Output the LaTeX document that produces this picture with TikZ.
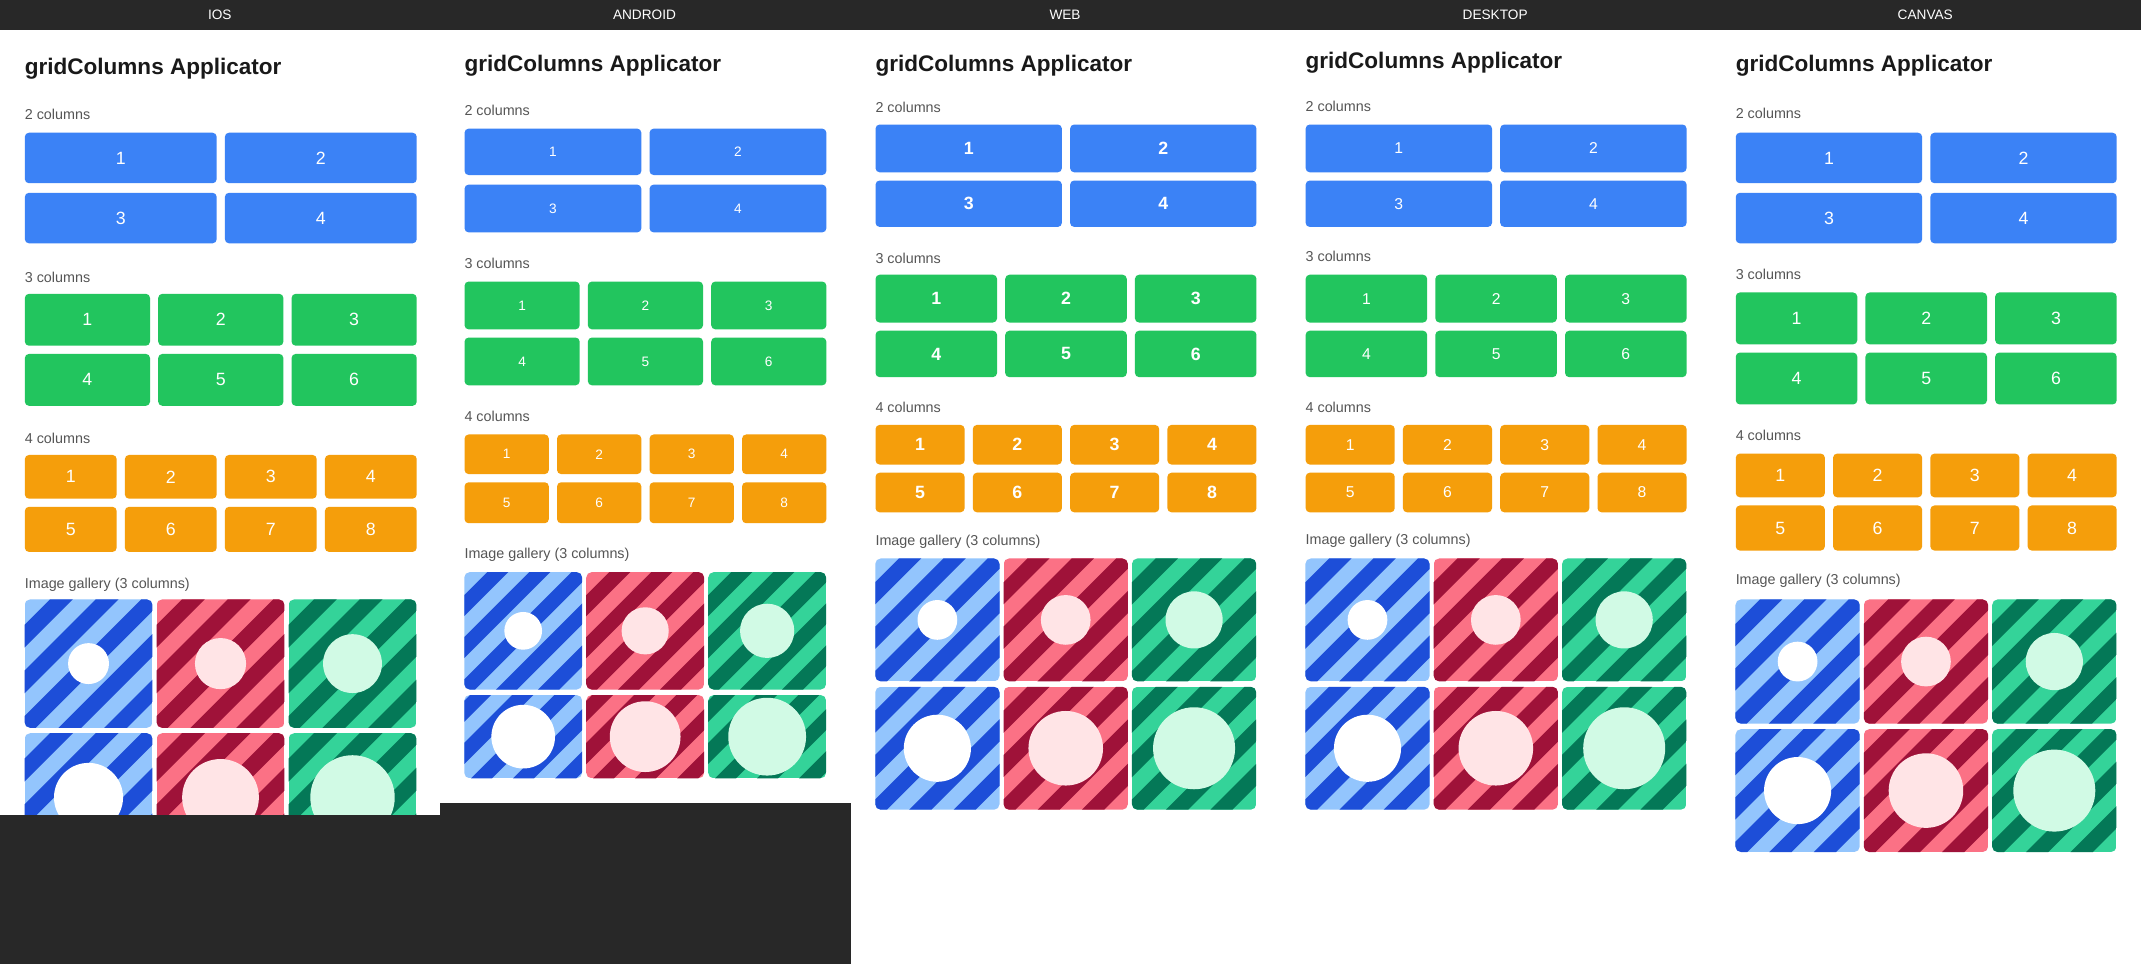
\documentclass[tikz,border=0pt]{standalone}
\usepackage{fontspec}
\setmainfont{Liberation Sans}
\begin{document}
\definecolor{cblue}{HTML}{3B82F6}
\definecolor{cgreen}{HTML}{22C55E}
\definecolor{corange}{HTML}{F59E0B}
\definecolor{bl}{HTML}{93C5FD}\definecolor{bd}{HTML}{1D4ED8}\definecolor{bc}{HTML}{FFFFFF}
\definecolor{pl}{HTML}{FB7185}\definecolor{pd}{HTML}{9F1239}\definecolor{pc}{HTML}{FFE4E6}
\definecolor{gl}{HTML}{34D399}\definecolor{gd}{HTML}{047857}\definecolor{gc}{HTML}{D1FAE5}
\definecolor{dark}{HTML}{282828}
\definecolor{labg}{HTML}{555555}
\newcommand\gcells[6]{% n, top, bot, color, start, name
 \pgfmathsetmacro\cw{(\PR-\PL-(#1-1)*6)/#1}
 \pgfmathsetmacro\chh{#3-#2}
 \foreach \i in {1,...,#1}{
  \pgfmathsetmacro\xa{\PL+(\i-1)*(\cw+6)}
  \pgfmathtruncatemacro\cnum{#5+\i-1}
  \node[box,fill=#4,minimum width=\cw pt,minimum height=\chh pt,anchor=north west] (\pid#6\cnum) at (\xa,#2) {\cnum};
 }}
\newcommand\gtile[9]{% name,x0,y0,w,h,light,dark,circ,rfrac
 \begin{scope}
 \clip[rounded corners=4] (#2,#3) rectangle ++(#4,#5);
 \fill[#6] (#2,#3) rectangle ++(#4,#5);
 \pgfmathsetmacro\per{#4/2.8}
 \pgfmathsetmacro\lw{\per*0.3536}
 \foreach \k in {-6,...,6}{\draw[#7,line width=\lw pt] ({#2+#4/2+\k*\per-80},{#3+#5/2+80}) -- ++(160,-160);}
 \pgfmathsetmacro\cd{2*#9*#4}
 \node[circle,fill=#8,minimum size=\cd pt,inner sep=0pt] (#1) at ({#2+#4/2},{#3+#5/2}) {};
 \end{scope}}
\newcommand\gallery[4]{% top1,h1,top2,h2
 \pgfmathsetmacro\tw{(\PR-\PL-6)/3}
 \pgfmathsetmacro\xb{\PL+\tw+3}\pgfmathsetmacro\xc{\PL+2*\tw+6}
 \gtile{\pid ta}{\PL}{#1}{\tw}{#2}{bl}{bd}{bc}{0.16}
 \gtile{\pid tb}{\xb}{#1}{\tw}{#2}{pl}{pd}{pc}{0.20}
 \gtile{\pid tc}{\xc}{#1}{\tw}{#2}{gl}{gd}{gc}{0.23}
 \gtile{\pid td}{\PL}{#3}{\tw}{#4}{bl}{bd}{bc}{0.27}
 \gtile{\pid te}{\xb}{#3}{\tw}{#4}{pl}{pd}{pc}{0.30}
 \gtile{\pid tf}{\xc}{#3}{\tw}{#4}{gl}{gd}{gc}{0.33}}
\begin{tikzpicture}[x=1pt,y=-1pt,
 box/.style={rounded corners=3pt,inner sep=0pt,text=white,font=\fontsize{13}{13}\selectfont},
 ttl/.style={anchor=west,inner sep=0pt,font=\bfseries\fontsize{16.5}{17}\selectfont,text=black!90},
 lab/.style={anchor=west,inner sep=0pt,font=\fontsize{10.5}{11}\selectfont,text=labg},
 hdr/.style={text=white,font=\fontsize{10}{10}\selectfont}]
\useasboundingbox (0,0) rectangle (1568,706);
\fill[white] (0,0) rectangle (1568,706);
\fill[dark] (0,0) rectangle (1568,22);
\node[hdr] (h1) at (161,11) {IOS};
\node[hdr] (h2) at (472,11) {ANDROID};
\node[hdr] (h3) at (780,11) {WEB};
\node[hdr] (h4) at (1095,11) {DESKTOP};
\node[hdr] (h5) at (1410,11) {CANVAS};
% IOS
\def\PL{18}\def\PR{305}\def\pid{ios}
\node[ttl] (iost) at (18,50) {gridColumns Applicator};
\node[lab] (iosl2) at (18,84) {2 columns};
\gcells{2}{97}{134}{cblue}{1}{a}\gcells{2}{141}{178}{cblue}{3}{a}
\node[lab] (iosl3) at (18,203) {3 columns};
\gcells{3}{215}{253}{cgreen}{1}{b}\gcells{3}{259}{297}{cgreen}{4}{b}
\node[lab] (iosl4) at (18,321) {4 columns};
\gcells{4}{333}{365}{corange}{1}{c}\gcells{4}{371}{404}{corange}{5}{c}
\node[lab] (iosl5) at (18,428) {Image gallery (3 columns)};
\gallery{439}{94}{537}{94}
% ANDROID
\def\PL{340}\def\PR{605}\def\pid{and}
\tikzset{box/.append style={font=\fontsize{10}{10}\selectfont}}
\node[ttl] (andt) at (340,48) {gridColumns Applicator};
\node[lab] (andl2) at (340,81) {2 columns};
\gcells{2}{94}{128}{cblue}{1}{a}\gcells{2}{135}{170}{cblue}{3}{a}
\node[lab] (andl3) at (340,193) {3 columns};
\gcells{3}{206}{241}{cgreen}{1}{b}\gcells{3}{247}{282}{cgreen}{4}{b}
\node[lab] (andl4) at (340,305) {4 columns};
\gcells{4}{318}{347}{corange}{1}{c}\gcells{4}{353}{383}{corange}{5}{c}
\node[lab] (andl5) at (340,406) {Image gallery (3 columns)};
\gallery{419}{86}{509}{61}
% WEB
\def\PL{641}\def\PR{920}\def\pid{web}
\tikzset{box/.append style={font=\bfseries\fontsize{13}{13}\selectfont}}
\node[ttl] (webt) at (641,48) {gridColumns Applicator};
\node[lab] (webl2) at (641,79) {2 columns};
\gcells{2}{91}{126}{cblue}{1}{a}\gcells{2}{132}{166}{cblue}{3}{a}
\node[lab] (webl3) at (641,189) {3 columns};
\gcells{3}{201}{236}{cgreen}{1}{b}\gcells{3}{242}{276}{cgreen}{4}{b}
\node[lab] (webl4) at (641,298) {4 columns};
\gcells{4}{311}{340}{corange}{1}{c}\gcells{4}{346}{375}{corange}{5}{c}
\node[lab] (webl5) at (641,397) {Image gallery (3 columns)};
\gallery{409}{90}{503}{90}
% DESKTOP
\def\PL{956}\def\PR{1235}\def\pid{dsk}
\tikzset{box/.append style={font=\fontsize{11.5}{12}\selectfont}}
\node[ttl] (dskt) at (956,46) {gridColumns Applicator};
\node[lab] (dskl2) at (956,78) {2 columns};
\gcells{2}{91}{126}{cblue}{1}{a}\gcells{2}{132}{166}{cblue}{3}{a}
\node[lab] (dskl3) at (956,188) {3 columns};
\gcells{3}{201}{236}{cgreen}{1}{b}\gcells{3}{242}{276}{cgreen}{4}{b}
\node[lab] (dskl4) at (956,298) {4 columns};
\gcells{4}{311}{340}{corange}{1}{c}\gcells{4}{346}{375}{corange}{5}{c}
\node[lab] (dskl5) at (956,396) {Image gallery (3 columns)};
\gallery{409}{90}{503}{90}
% CANVAS
\def\PL{1271}\def\PR{1550}\def\pid{cnv}
\tikzset{box/.append style={font=\fontsize{13}{13}\selectfont}}
\node[ttl] (cnvt) at (1271,48) {gridColumns Applicator};
\node[lab] (cnvl2) at (1271,83) {2 columns};
\gcells{2}{97}{134}{cblue}{1}{a}\gcells{2}{141}{178}{cblue}{3}{a}
\node[lab] (cnvl3) at (1271,201) {3 columns};
\gcells{3}{214}{252}{cgreen}{1}{b}\gcells{3}{258}{296}{cgreen}{4}{b}
\node[lab] (cnvl4) at (1271,319) {4 columns};
\gcells{4}{332}{364}{corange}{1}{c}\gcells{4}{370}{403}{corange}{5}{c}
\node[lab] (cnvl5) at (1271,425) {Image gallery (3 columns)};
\gallery{439}{91}{534}{90}
% bottom dark regions
\fill[dark] (0,597) rectangle (322,706);
\fill[dark] (322,588) rectangle (623,706);
\end{tikzpicture}
\end{document}
